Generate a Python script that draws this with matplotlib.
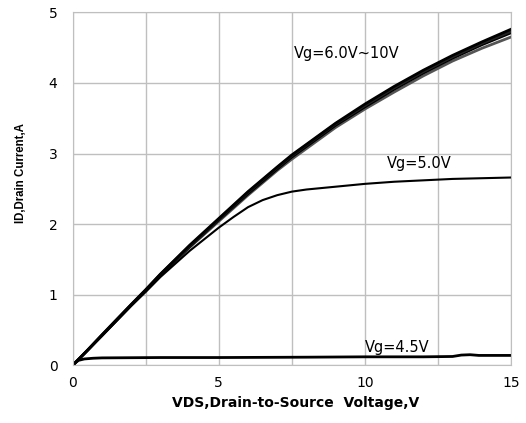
import matplotlib
matplotlib.use('Agg')

import matplotlib.pyplot as plt
from matplotlib.ticker import MultipleLocator

# Output characteristics (VDS in V, ID in A)
vds = [0, 0.5, 1, 2, 2.5, 3, 4, 5, 6, 7, 7.5, 8, 9, 10, 11, 12, 13, 14, 15]

# Vg = 6.0 V ~ 10 V bundle (nearly overlapping curves)
id_vg10 = [0, 0.21, 0.43, 0.86, 1.07, 1.29, 1.70, 2.08, 2.46, 2.81, 2.98, 3.13, 3.43, 3.70, 3.95, 4.18, 4.39, 4.58, 4.76]
id_vg8 = [0, 0.21, 0.43, 0.86, 1.07, 1.29, 1.69, 2.07, 2.45, 2.80, 2.97, 3.12, 3.42, 3.68, 3.93, 4.16, 4.37, 4.56, 4.73]
id_vg7 = [0, 0.21, 0.42, 0.85, 1.06, 1.28, 1.68, 2.06, 2.43, 2.78, 2.95, 3.10, 3.40, 3.66, 3.91, 4.14, 4.35, 4.54, 4.71]
id_vg6 = [0, 0.21, 0.42, 0.85, 1.06, 1.27, 1.67, 2.04, 2.41, 2.76, 2.92, 3.07, 3.37, 3.63, 3.87, 4.10, 4.31, 4.49, 4.65]

vds_5 = [0, 0.5, 1, 2, 2.5, 3, 4, 5, 5.5, 6, 6.5, 7, 7.5, 8, 9, 10, 11, 12, 13, 14, 15]
id_vg5 = [0, 0.21, 0.42, 0.84, 1.04, 1.25, 1.62, 1.95, 2.10, 2.24, 2.34, 2.41, 2.46, 2.49, 2.53, 2.57, 2.60, 2.62, 2.64, 2.65, 2.66]

vds_45 = [0, 0.1, 0.2, 0.4, 0.7, 1, 3, 5, 8, 10, 12, 13, 13.3, 13.6, 13.9, 15]
id_vg45 = [0, 0.04, 0.07, 0.09, 0.10, 0.105, 0.11, 0.11, 0.115, 0.12, 0.12, 0.125, 0.145, 0.15, 0.14, 0.14]

fig = plt.figure(figsize=(5.26, 4.23), dpi=100)
ax = fig.add_axes([0.1382, 0.1364, 0.8333, 0.8345])

ax.plot(vds, id_vg6, color='#555555', lw=2)
ax.plot(vds, id_vg7, color='black', lw=2)
ax.plot(vds, id_vg8, color='#222222', lw=2)
ax.plot(vds, id_vg10, color='black', lw=2)
ax.plot(vds_5, id_vg5, color='black', lw=1.5)
ax.plot(vds_45, id_vg45, color='black', lw=2)

ax.text(7.57, 4.42, 'Vg=6.0V~10V', fontsize=10.5, va='center')
ax.text(10.76, 2.86, 'Vg=5.0V', fontsize=10.5, va='center')
ax.text(10.0, 0.25, 'Vg=4.5V', fontsize=10.5, va='center')

ax.set_xlim(0, 15)
ax.set_ylim(0, 5)
ax.xaxis.set_major_locator(MultipleLocator(5))
ax.xaxis.set_minor_locator(MultipleLocator(2.5))
ax.yaxis.set_major_locator(MultipleLocator(1))
ax.grid(True, which='both', color='#bfbfbf', lw=1)
ax.set_axisbelow(True)
ax.tick_params(which='both', length=0, labelsize=10)
ax.tick_params(axis='x', pad=8)
ax.tick_params(axis='y', pad=11)
for sp in ax.spines.values():
    sp.set_color('#bfbfbf')

ax.set_xlabel('VDS,Drain-to-Source  Voltage,V', fontsize=10, fontweight='bold')
# the y label is squeezed in the reference, so use a narrower face
ax.set_ylabel('ID,Drain Current,A', fontsize=8.3, fontweight='bold',
              family='Liberation Sans')
ax.xaxis.set_label_coords(0.509, -0.107)
ax.yaxis.set_label_coords(-0.118, 0.545)
ax.xaxis.label.set_va('center')
ax.yaxis.label.set_va('center')

fig.savefig('out.png', dpi=100)
